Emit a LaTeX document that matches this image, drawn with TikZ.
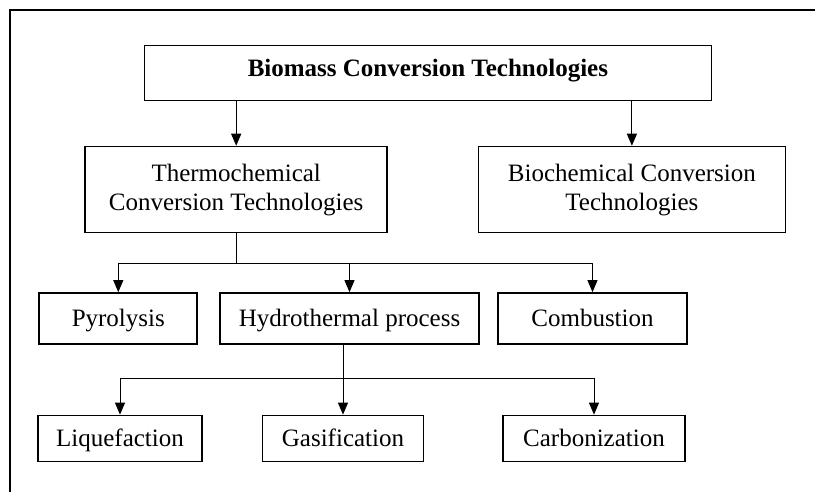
\documentclass[tikz,border=0pt]{standalone}
\usepackage{fontspec}
\setmainfont{Liberation Serif}
\usetikzlibrary{arrows.meta, positioning}
\tikzstyle{titlebox} = [rectangle, minimum width=567pt, minimum height=55pt, inner sep=0pt, text height=16pt, text depth=8pt, text centered, draw=black, line width=1.7pt, font=\fontsize{25pt}{29pt}\selectfont\bfseries]
\tikzstyle{techbox} = [rectangle, minimum height=86pt, inner sep=0pt, align=center, draw=black, line width=1.7pt, font=\fontsize{25pt}{29pt}\selectfont]
\tikzstyle{stepbox} = [rectangle, minimum height=51pt, inner sep=0pt, text height=20pt, text depth=4pt, text centered, draw=black, line width=1.7pt, font=\fontsize{25pt}{29pt}\selectfont]
\tikzstyle{subbox} = [stepbox, minimum height=46pt]
\tikzstyle{arrow} = [line width=1pt, -{Triangle[length=12pt, width=10pt]}]
\tikzstyle{line} = [line width=1pt]

\begin{document}
\begin{tikzpicture}[x=1pt, y=-1pt, node distance=120pt]
\useasboundingbox (0,0) rectangle (815,492);
\draw [line width=2.3pt] (10,10) rectangle (840,520);

% Nodes
\node (biomass) [titlebox] at (427.9,72.9) {Biomass Conversion Technologies};
\node (thermo) [techbox, minimum width=302pt, below of=biomass, xshift=-191.7pt, yshift=3.3pt] {Thermochemical\\Conversion Technologies};
\node (bio) [techbox, minimum width=307pt, below of=biomass, xshift=204pt, yshift=3.3pt] {Biochemical Conversion\\Technologies};
\node (pyro) [stepbox, minimum width=158pt, below of=thermo, xshift=-117.9pt, yshift=-8.9pt] {Pyrolysis};
\node (hydro) [stepbox, minimum width=259pt, below of=thermo, xshift=113.3pt, yshift=-8.9pt] {Hydrothermal process};
\node (comb) [stepbox, minimum width=189pt, below of=thermo, xshift=356.3pt, yshift=-8.9pt] {Combustion};
\node (liq) [subbox, minimum width=164pt, below of=pyro, xshift=1.7pt] {Liquefaction};
\node (gas) [subbox, minimum width=161pt, below of=hydro, xshift=-6.5pt] {Gasification};
\node (carb) [subbox, minimum width=182pt, below of=comb, xshift=1.5pt] {Carbonization};

% Arrows
\draw [arrow] (biomass.south -| thermo) -- (thermo);
\draw [arrow] (biomass.south -| bio) -- (bio);
\draw [line] (thermo.south) -- ++(0,30.2) coordinate (tj);
\draw [arrow] (tj) -| (pyro);
\draw [arrow] (tj) -| (comb);
\draw [arrow] (tj -| hydro) -- (hydro);
\draw [arrow] (hydro.south -| gas) -- (gas);
\path (hydro.south -| gas) ++(0,34) coordinate (hj);
\draw [arrow] (hj) -| (liq);
\draw [arrow] (hj) -| (carb);

\end{tikzpicture}
\end{document}
